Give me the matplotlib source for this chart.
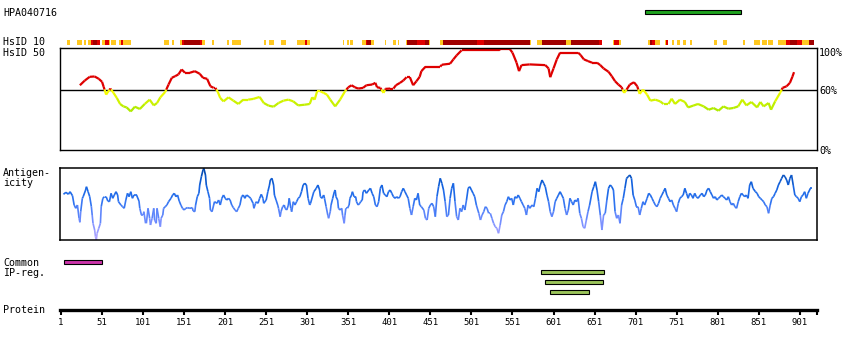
import numpy as np
import matplotlib
matplotlib.use("Agg")
import matplotlib.pyplot as plt
from matplotlib.collections import LineCollection
from matplotlib.colors import LinearSegmentedColormap, Normalize

# ---------------------------------------------------------------- data
PROTEIN_LENGTH = 922
antigen_name = "HPA040716"
antigen_region = (713, 829)

# HsID 10 identity blocks (residue start, end) by level
hsid10_low = [(8, 12), (21, 26), (29, 31), (34, 37), (51, 55), (59, 61), (62, 68),
              (72, 74), (76, 86), (127, 133), (136, 139), (146, 148), (173, 176),
              (185, 187), (203, 206), (209, 220), (248, 251), (254, 261), (269, 275),
              (289, 298), (301, 304), (344, 346), (349, 352), (353, 357), (368, 373),
              (379, 382), (396, 397), (406, 409), (411, 413), (421, 423), (449, 451),
              (463, 466), (572, 574), (581, 587), (616, 622), (674, 675), (681, 683),
              (716, 718), (725, 731), (737, 738), (740, 741), (745, 748), (752, 755),
              (759, 762), (767, 770), (796, 800), (808, 812), (832, 834), (845, 853),
              (855, 861), (862, 868), (874, 884), (904, 912)]
hsid10_mid = [(37, 40), (45, 48), (55, 59), (74, 76), (148, 151), (170, 173),
              (298, 301), (373, 374), (435, 445), (508, 516), (656, 660), (675, 681),
              (721, 725), (738, 740), (884, 889), (898, 904)]
hsid10_high = [(40, 45), (151, 170), (374, 379), (423, 435), (445, 449), (466, 508),
               (516, 572), (587, 616), (622, 656), (718, 721), (889, 898), (912, 918)]

# HsID 50 identity (%) along the sequence
hsid50_pos = [24, 30, 36, 42, 47, 51, 53, 56, 61, 65, 69, 73, 77, 81, 86, 91, 97, 103,
              109, 114, 118, 122, 128, 132, 136, 140, 144, 148, 152, 158, 164, 170, 174,
              179, 183, 187, 189, 192, 195, 199, 205, 211, 217, 223, 229, 235, 243, 248,
              254, 260, 266, 272, 278, 284, 290, 298, 304, 307, 310, 313, 317, 321, 325,
              329, 335, 341, 347, 351, 355, 359, 363, 369, 373, 380, 384, 386, 390, 394,
              396, 402, 406, 409, 414, 418, 422, 426, 430, 434, 438, 440, 445, 453, 463,
              465, 475, 479, 483, 489, 507, 534, 536, 548, 551, 556, 559, 562, 572, 591,
              595, 597, 601, 605, 609, 615, 631, 634, 638, 643, 648, 654, 658, 662, 668,
              672, 676, 680, 684, 687, 690, 694, 699, 703, 706, 710, 715, 719, 725, 731,
              735, 741, 745, 749, 755, 761, 765, 771, 777, 784, 790, 796, 802, 808, 814,
              820, 826, 831, 836, 842, 849, 853, 857, 863, 866, 871, 877, 880, 885, 889,
              892, 894]
hsid50_val = [64.3, 69, 72.7, 73, 70.7, 67.7, 62.7, 55, 61, 56.7, 51.7, 45.7, 43.3, 42.3,
              38.3, 43, 40.7, 45.7, 50, 44.3, 46.7, 52.3, 57.7, 65, 71.7, 73.3, 75, 80,
              76.7, 76.7, 78.3, 75.7, 71.7, 70.7, 63.3, 61.7, 61.7, 57.7, 51.7, 48.3, 52.3,
              49, 45.7, 50, 50, 50.7, 52.7, 46.7, 44, 43, 46.7, 49, 50, 48.3, 44.3, 45,
              45.7, 52.3, 50, 58.3, 58.3, 56.7, 55, 50, 43.3, 50, 58.3, 62.3, 64.3, 62.3,
              61, 61.7, 64.3, 65, 66.7, 62.3, 61.7, 56.7, 60.7, 61, 61, 64.3, 66.7, 69,
              72.3, 72.3, 64.3, 68.3, 72.7, 78.3, 82.7, 82.7, 82.7, 84.7, 85.7, 90, 94,
              99, 99, 99, 100, 100, 96.7, 86.7, 78.3, 84.3, 85, 84.3, 81, 72.3, 81, 90,
              96.7, 96.7, 96.7, 94.3, 90, 88.3, 86.7, 86.7, 84.3, 81, 77.7, 73.3, 68.3,
              65, 62.3, 56.7, 60, 65, 67.3, 63.3, 55.7, 60, 55, 49, 50, 48.3, 45.7, 45.7,
              51, 45.7, 50, 47.7, 42.3, 44, 45.7, 43.3, 40, 41.7, 39, 43.3, 41, 41.7,
              43.3, 50, 44.3, 47.7, 42.3, 47.7, 43.3, 46.7, 40, 48.3, 56.7, 61.7, 63.3,
              66.7, 72.7, 77.3]

# Antigenicity score along the sequence
antigenicity_pos = [
    4, 7, 10, 12, 15, 17, 19, 21, 23, 24, 25, 27, 28, 31, 32, 34, 36, 38, 39, 40,
    42, 43, 44, 45, 47, 49, 50, 52, 54, 56, 58, 60, 62, 64, 66, 68, 70, 71, 74, 76,
    78, 80, 82, 84, 86, 88, 90, 93, 96, 97, 99, 101, 102, 104, 105, 107, 109, 110, 112, 114,
    115, 117, 118, 120, 122, 123, 125, 126, 128, 130, 132, 135, 137, 139, 141, 143, 145, 147, 149, 151,
    153, 155, 158, 161, 162, 164, 165, 167, 169, 170, 172, 174, 175, 177, 178, 180, 182, 183, 185, 187,
    188, 191, 193, 195, 197, 199, 201, 203, 205, 207, 209, 211, 213, 215, 217, 219, 221, 223, 225, 227,
    230, 232, 235, 236, 238, 239, 241, 243, 245, 247, 248, 251, 253, 255, 256, 258, 260, 261, 263, 265,
    266, 268, 269, 271, 273, 274, 276, 278, 279, 281, 282, 284, 286, 288, 290, 292, 294, 296, 298, 300,
    302, 304, 305, 309, 312, 314, 316, 317, 319, 321, 322, 324, 326, 327, 329, 330, 332, 334, 335, 336,
    338, 339, 341, 343, 344, 346, 347, 348, 350, 352, 353, 355, 356, 358, 360, 361, 363, 365, 366, 368,
    369, 371, 373, 376, 378, 380, 382, 384, 386, 388, 390, 392, 394, 396, 398, 400, 402, 404, 406, 408,
    410, 412, 414, 416, 418, 420, 422, 424, 426, 428, 430, 432, 434, 436, 438, 440, 443, 445, 447, 449,
    451, 453, 455, 457, 459, 461, 463, 465, 467, 469, 471, 473, 475, 477, 479, 481, 483, 485, 487, 489,
    491, 493, 495, 497, 499, 501, 503, 505, 507, 510, 512, 514, 516, 518, 520, 522, 524, 526, 528, 530,
    532, 534, 536, 538, 540, 542, 544, 546, 548, 550, 552, 554, 556, 558, 560, 562, 564, 566, 568, 570,
    572, 575, 577, 579, 581, 583, 585, 587, 589, 591, 593, 595, 597, 599, 601, 603, 605, 607, 609, 611,
    613, 615, 617, 619, 621, 623, 625, 627, 629, 631, 633, 635, 637, 639, 641, 643, 645, 648, 650, 652,
    654, 656, 658, 660, 662, 664, 666, 668, 670, 672, 674, 676, 678, 680, 682, 684, 686, 688, 690, 692,
    694, 696, 698, 700, 702, 704, 706, 708, 710, 712, 715, 717, 719, 721, 723, 725, 727, 729, 731, 733,
    735, 737, 739, 741, 743, 745, 747, 749, 751, 753, 755, 757, 759, 761, 763, 765, 767, 769, 771, 773,
    775, 777, 780, 782, 784, 786, 788, 790, 792, 794, 796, 798, 800, 802, 804, 806, 808, 810, 812, 814,
    816, 818, 820, 822, 824, 826, 828, 830, 832, 834, 836, 838, 840, 842, 844, 847, 849, 851, 853, 855,
    857, 859, 861, 863, 865, 867, 869, 871, 873, 875, 877, 879, 881, 883, 885, 887, 889, 891, 893, 895,
    897, 899, 901, 903, 905, 907, 909, 911, 914, 916]
antigenicity_val = [
    45.7, 47.7, 45.7, 48.3, 44.3, 35, 31.7, 35, 21.7, 17.7, 28.3, 41.7, 43.3, 50, 53.3, 48.3, 43.3, 33.3, 25, 16.7,
    10, 3.3, 0, 6.7, 11.7, 16.7, 33.3, 41.7, 43.3, 43.3, 39, 38.3, 46.7, 41.7, 45, 48.3, 45, 38.3, 35, 33.3,
    31.7, 40, 46.7, 43.3, 48.3, 41.7, 45, 45, 39, 31.7, 25, 25, 28.3, 16.7, 16.7, 31.7, 21.7, 15, 21.7, 31.7,
    20, 16.7, 31.7, 21.7, 13.3, 21.7, 25, 31.7, 33.3, 35, 38.3, 41.7, 45, 46.7, 43.3, 45, 39, 35, 31.7, 30,
    31.7, 32.3, 31.7, 32.3, 29, 28.3, 35, 43.3, 46.7, 55, 63.3, 70, 71.7, 65, 55, 48.3, 41.7, 30, 28.3, 35,
    38.3, 36.7, 40, 35, 41.7, 45, 41.7, 40, 41.7, 40, 35, 32.3, 30, 28.3, 31.7, 35, 43.3, 45, 41.7, 45,
    43.3, 41.7, 36.7, 31.7, 36.7, 38.3, 36.7, 41.7, 45.7, 41.7, 36.7, 40, 48.3, 55, 60, 61.7, 55, 45, 40, 35,
    31.7, 23.3, 28.3, 33.3, 35, 31.7, 30, 35, 41.7, 31.7, 28.3, 38.3, 35, 38.3, 41.7, 43.3, 48.3, 55, 56.7, 55,
    41.7, 35, 36.7, 48.3, 51.7, 55, 50, 43.3, 41.7, 45, 41.7, 33.3, 25, 21.7, 28.3, 35, 41.7, 48.3, 50, 43.3,
    40, 31.7, 30, 31.7, 25, 16.7, 25, 31.7, 31.7, 35, 41.7, 45, 48.3, 43.3, 43.3, 38.3, 35, 36.7, 38.3, 40,
    48.3, 50, 46.7, 50, 51.7, 46.7, 43.3, 35, 33.3, 38.3, 51.7, 55, 46.7, 45, 43.3, 48.3, 50, 46.7, 43.3, 41.7,
    43.3, 41.7, 43.3, 48.3, 51.7, 48.3, 45, 41.7, 31.7, 25, 33.3, 41.7, 40, 46.7, 35, 33.3, 30, 21.7, 20, 31.7,
    35, 36.7, 33.3, 23.3, 43.3, 53.3, 61.7, 56.7, 50, 38.3, 23.3, 25, 41.7, 51.7, 56.7, 38.3, 23.3, 20, 31.7, 28.3,
    35, 30, 40, 51.7, 53.3, 50, 46.7, 43.3, 35, 26.7, 20, 25, 28.3, 33.3, 31.7, 26.7, 26.7, 21.7, 16.7, 13.3,
    11.7, 6.7, 15, 25, 28.3, 35, 38.3, 43.3, 40, 41.7, 35, 43.3, 41.7, 45, 41.7, 38.3, 35, 31.7, 25, 35,
    31.7, 35, 33.3, 41.7, 51.7, 48.3, 55, 60, 56.7, 53.3, 45, 38.3, 28.3, 23.3, 28.3, 38.3, 41.7, 45, 48.3, 45,
    41.7, 31.7, 25, 30, 41.7, 38.3, 35, 40, 38.3, 41.7, 26.7, 21.7, 13.3, 11.7, 20, 28.3, 35, 48.3, 53.3, 58.3,
    50, 38.3, 25, 10, 25, 26.7, 40, 51.7, 55, 53.3, 50, 28.3, 21.7, 25, 16.7, 35, 41.7, 51.7, 61.7, 63.3,
    65, 61.7, 45, 40, 33.3, 33.3, 25, 31.7, 38.3, 35, 41.7, 46.7, 45, 41.7, 38.3, 35, 33.3, 36.7, 41.7, 45,
    48.3, 51.7, 45, 41.7, 38.3, 40, 35, 31.7, 28.3, 36.7, 41.7, 43.3, 45, 51.7, 46.7, 41.7, 46.7, 45, 41.7, 46.7,
    43.3, 41.7, 45, 46.7, 43.3, 45, 50, 51.7, 48.3, 45, 41.7, 43.3, 40, 41.7, 43.3, 45, 43.3, 41.7, 40, 43.3,
    38.3, 35, 36.7, 33.3, 31.7, 38.3, 43.3, 46.7, 45, 43.3, 45, 41.7, 55, 58.3, 51.7, 48.3, 46.7, 43.3, 41.7, 40,
    38.3, 35, 33.3, 26.7, 35, 41.7, 43.3, 46.7, 50, 55, 58.3, 61.7, 65, 63.3, 60, 55, 61.7, 65, 55, 45,
    43.3, 41.7, 38.3, 43.3, 45, 48.3, 41.7, 46.7, 51.7, 51.7]

common_ipreg = [(5, 51)]
ip_regions = [(586, 662), (591, 661), (597, 644)]

tick_values = [1, 51, 101, 151, 201, 251, 301, 351, 401, 451,
               501, 551, 601, 651, 701, 751, 801, 851, 901]

# ---------------------------------------------------------------- layout
W, H = 850, 350
PX_LEFT, PX_RIGHT = 60, 817
XLIM = (-0.22, 922.0)
MONO = "DejaVu Sans Mono"

fig = plt.figure(figsize=(W / 100, H / 100), dpi=100)
fig.patch.set_facecolor("white")


def panel(top, bottom):
    return fig.add_axes([PX_LEFT / W, 1 - bottom / H,
                         (PX_RIGHT - PX_LEFT) / W, (bottom - top) / H])


def label(x, baseline, text, size=7.2):
    fig.text(x / W, 1 - baseline / H, text, ha="left", va="baseline",
             family=MONO, fontsize=size, color="black")


def bare(ax):
    ax.set_xlim(*XLIM)
    ax.set_xticks([])
    ax.set_yticks([])
    for s in ax.spines.values():
        s.set_visible(False)
    ax.patch.set_alpha(0)


# top strip: antigen location and HsID 10 blocks
ax_top = panel(0, 47)
bare(ax_top)
ax_top.set_ylim(47, 0)
ax_top.barh(12.3, antigen_region[1] - antigen_region[0], left=antigen_region[0],
            height=4, color="#1FA31F", edgecolor="black", linewidth=0.8)
for blocks, col in ((hsid10_low, "#FFC820"), (hsid10_mid, "#E00000"),
                    (hsid10_high, "#A00000")):
    ax_top.broken_barh([(a, b - a) for a, b in blocks], (39.5, 5.5),
                       facecolors=col, edgecolors="none")

# HsID 50 panel
ax_id = panel(48.3, 150)
ax_id.set_xlim(*XLIM)
ax_id.set_ylim(0, 101)
ax_id.set_xticks([])
ax_id.set_yticks([])
for s in ax_id.spines.values():
    s.set_linewidth(1.0)
ax_id.axhline(60, color="black", lw=1.0)

pos = np.asarray(hsid50_pos, float)
val = np.asarray(hsid50_val, float)
segs, cols = [], []
for i in range(len(pos) - 1):
    x0, x1, y0, y1 = pos[i], pos[i + 1], val[i], val[i + 1]
    pieces = [(x0, y0, x1, y1)]
    if (y0 - 60) * (y1 - 60) < 0:
        xc = x0 + (60 - y0) / (y1 - y0) * (x1 - x0)
        pieces = [(x0, y0, xc, 60), (xc, 60, x1, y1)]
    for a, b, c, d in pieces:
        segs.append([(a, b), (c, d)])
        m = (b + d) / 2
        if m >= 60:
            cols.append((0.87, 0.0, 0.0))
        else:
            t = min(max((60 - m) / 25, 0), 1)
            cols.append((1 - 0.4 * t, 1 - 0.1 * t, 0.0))
ax_id.add_collection(LineCollection(segs, colors=cols, linewidths=1.6,
                                    capstyle="butt", joinstyle="miter"))

# antigenicity panel
ax_ag = panel(168.3, 240)
ax_ag.set_xlim(*XLIM)
ax_ag.set_ylim(0, 71.7)
ax_ag.set_xticks([])
ax_ag.set_yticks([])
for s in ax_ag.spines.values():
    s.set_linewidth(1.1)
cmap = LinearSegmentedColormap.from_list(
    "antigen", [(0.0, "#B8A8FF"), (0.3, "#6E8CFF"), (0.55, "#2C72F0"),
                (0.75, "#1262E0"), (1.0, "#0045A8")])
norm = Normalize(0, 71.7)
ap = np.asarray(antigenicity_pos, float)
av = np.asarray(antigenicity_val, float)
pts = np.column_stack([ap, av])
aseg = np.stack([pts[:-1], pts[1:]], axis=1)
ax_ag.add_collection(LineCollection(aseg, colors=cmap(norm((av[:-1] + av[1:]) / 2)),
                                    linewidths=1.2, capstyle="butt"))

# IP regions and protein axis
ax_pr = panel(250, 310)
ax_pr.set_xlim(*XLIM)
ax_pr.set_ylim(310, 250)
ax_pr.patch.set_alpha(0)
for side in ("left", "right", "top"):
    ax_pr.spines[side].set_visible(False)
ax_pr.spines["bottom"].set_linewidth(2.4)
ax_pr.set_yticks([])
ax_pr.set_xticks(tick_values)
ax_pr.set_xticklabels([str(t) for t in tick_values], family=MONO, fontsize=6.5)
ax_pr.set_xticks([PROTEIN_LENGTH], minor=True)
ax_pr.tick_params(axis="x", which="both", direction="out", length=3.6, width=1.5,
                  pad=2.5, color="black")
for (a, b), yc, col in zip(common_ipreg + ip_regions, [262.3, 272.3, 282.3, 292.3],
                           ["#CC33AA", "#9BC45A", "#9BC45A", "#9BC45A"]):
    ax_pr.barh(yc, b - a, left=a, height=4, color=col, edgecolor="black", linewidth=0.8)

# text labels
label(3, 16, antigen_name)
label(3, 45, "HsID 10")
label(3, 56, "HsID 50")
label(3, 176, "Antigen-")
label(3, 186, "icity")
label(3, 266.5, "Common")
label(3, 276, "IP-reg.")
label(3, 313, "Protein")
label(819, 56, "100%")
label(819, 93.5, "60%")
label(819, 153.5, "0%")

fig.savefig("out.png", dpi=100, facecolor="white")
